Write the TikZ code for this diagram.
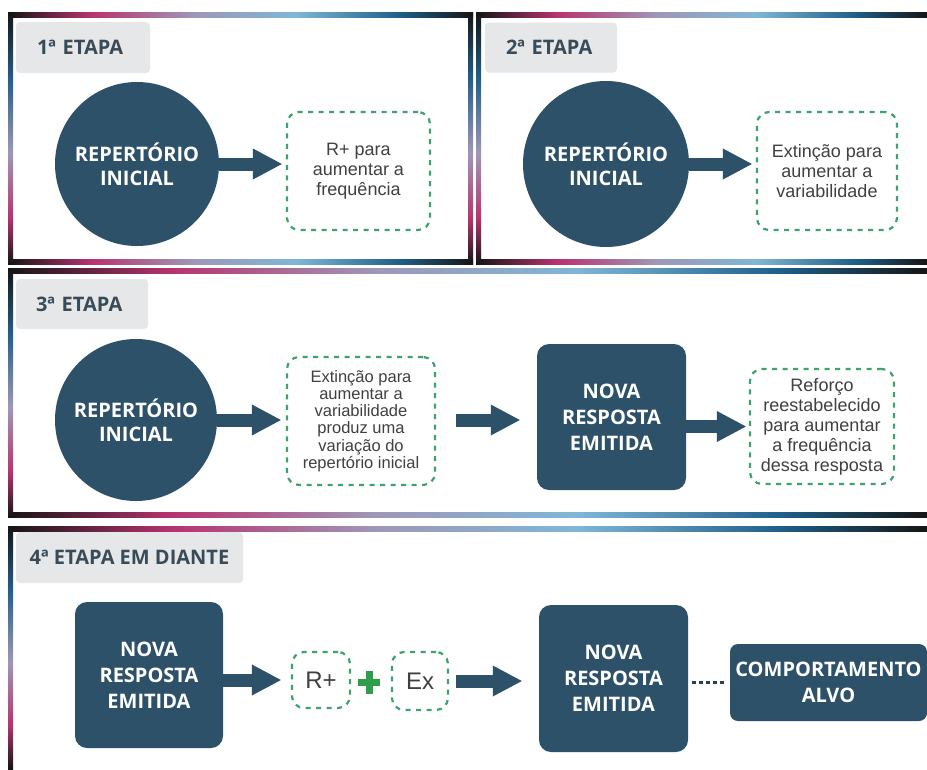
\documentclass[tikz,border=0pt]{standalone}
\usepackage{fontspec}
\setmainfont{Liberation Sans}
\newfontfamily\osfont{Open Sans}
\usetikzlibrary{arrows.meta}
\definecolor{navy}{HTML}{2D5169}
\definecolor{tabgray}{HTML}{E6E7E9}
\definecolor{tabtext}{HTML}{3A4B58}
\definecolor{dgreen}{HTML}{3DA26E}
\definecolor{pgreen}{HTML}{2E9E4A}
\definecolor{bodytext}{HTML}{404040}
\definecolor{dotcol}{HTML}{2A3E4C}
\definecolor{fpink}{HTML}{B8336F}
\definecolor{flav}{HTML}{9F97B8}
\definecolor{flblue}{HTML}{7FB6D6}
\definecolor{fblue}{HTML}{1F5F8A}
\definecolor{fdark}{HTML}{151515}
% stops placed in the 25bp..75bp band that \shade maps onto the path
\pgfdeclarehorizontalshading{frameh}{100bp}{color(0bp)=(fdark); color(25bp)=(fdark); color(34bp)=(fpink); color(45bp)=(flav); color(56bp)=(flblue); color(67bp)=(fblue); color(75bp)=(fdark); color(100bp)=(fdark)}
\pgfdeclareverticalshading{framev}{100bp}{color(0bp)=(fdark); color(25bp)=(fdark); color(34bp)=(fpink); color(47bp)=(flav); color(62bp)=(fblue); color(75bp)=(fdark); color(100bp)=(fdark)}
\tikzset{
  tabbox/.style={fill=tabgray, rounded corners=4pt, inner ysep=0pt,
    font=\osfont\bfseries\fontsize{20}{22}\selectfont, text=tabtext},
  navycirc/.style={circle, fill=navy, inner sep=0pt, text=white, align=center,
    font=\osfont\bfseries\fontsize{20}{24}\selectfont},
  navybox/.style={rectangle, rounded corners=12pt, fill=navy, inner sep=0pt,
    text=white, align=center, font=\osfont\bfseries\fontsize{20}{26}\selectfont},
  dashbox/.style={draw=dgreen, line width=2.2pt, dash pattern=on 5pt off 5.5pt,
    rounded corners=12pt, inner sep=0pt, align=center, text=bodytext,
    font=\fontsize{18}{20}\selectfont},
  fatarrow/.style={draw=navy, line width=13pt,
    -{Triangle[length=29pt,width=31pt,line width=0pt]}},
  dotline/.style={draw=dotcol, line width=3.5pt, dash pattern=on 3.5pt off 3.5pt},
  hbar/.style={shading=frameh},
  vbar/.style={shading=framev}
}
\begin{document}
\begin{tikzpicture}[x=1pt,y=-1pt]
\useasboundingbox (0,0) rectangle (927,769);
\fill[white] (0,0) rectangle (927,769);

% ---------- frames ----------
% panel 1
\shade[hbar] (8,12) rectangle (473,17);
\shade[hbar] (8,259) rectangle (473,264);
\shade[vbar] (8,12) rectangle (13,264);
\shade[vbar] (468,12) rectangle (473,264);
% panel 2
\shade[hbar] (476,12) rectangle (927,17);
\shade[hbar] (476,259) rectangle (927,264);
\shade[vbar] (476,12) rectangle (481,264);
% panel 3
\shade[hbar] (8,268) rectangle (927,273);
\shade[hbar] (8,512) rectangle (927,517);
\shade[vbar] (8,268) rectangle (13,517);
% panel 4
\shade[hbar] (8,526) rectangle (927,531);
\shade[vbar] (8,526) rectangle (13,769);

% ---------- panel 1 ----------
\node[tabbox, inner xsep=21pt, text width=92pt, align=left, minimum height=51pt] (t1) at (83,47.5) {1ª ETAPA};
\node[navycirc, minimum size=164pt] (c1) at (137,164) {REPERTÓRIO\\INICIAL};
\node[dashbox, minimum width=143pt, minimum height=118pt] (b1) at (358.5,171) {R+ para\\aumentar a\\frequência};
\draw[fatarrow, shorten >=4pt] (c1.east) -- (c1.east -| b1.west);

% ---------- panel 2 ----------
\node[tabbox, inner xsep=21pt, text width=90pt, align=left, minimum height=50pt] (t2) at (551,47.5) {2ª ETAPA};
\node[navycirc, minimum size=166pt] (c2) at (606,164) {REPERTÓRIO\\INICIAL};
\node[dashbox, minimum width=140pt, minimum height=118pt] (b2) at (827,171) {Extinção para\\aumentar a\\variabilidade};
\draw[fatarrow, shorten >=4pt] (c2.east) -- (c2.east -| b2.west);

% ---------- panel 3 ----------
\node[tabbox, inner xsep=20pt, text width=92pt, align=left, minimum height=50pt] (t3) at (82,304) {3ª ETAPA};
\node[navycirc, minimum size=162pt] (c3) at (136,420) {REPERTÓRIO\\INICIAL};
\node[dashbox, minimum width=148pt, minimum height=128pt, font=\fontsize{16.5}{17.2}\selectfont] (b3) at (361,421)
  {Extinção para\\aumentar a\\variabilidade\\produz uma\\variação do\\repertório inicial};
\node[navybox, minimum width=149pt, minimum height=146pt] (s3) at (611.5,417) {NOVA\\RESPOSTA\\EMITIDA};
\node[dashbox, minimum width=144pt, minimum height=115pt] (b4) at (822,426.5)
  {Reforço\\reestabelecido\\para aumentar\\a frequência\\dessa resposta};
\draw[fatarrow, shorten >=5pt] (c3.east) -- (c3.east -| b3.west);
\draw[fatarrow, shorten <=20pt, shorten >=17pt] (b3.east |- c3.east) -- (s3.west |- c3.east);
\draw[fatarrow, shorten >=3pt] (s3.east |- b4.west) -- (b4.west);

% ---------- panel 4 ----------
\node[tabbox, inner xsep=0pt, minimum width=227pt, minimum height=51pt] (t4) at (129.5,557.5) {4ª ETAPA EM DIANTE};
\node[navybox, minimum width=148pt, minimum height=146pt] (s4) at (149,675) {NOVA\\RESPOSTA\\EMITIDA};
\node[dashbox, minimum width=58pt, minimum height=56pt, font=\fontsize{24}{26}\selectfont] (rp) at (321,680) {R+};
\node[dashbox, minimum width=56pt, minimum height=58pt, font=\fontsize{24}{26}\selectfont] (ex) at (420,681) {Ex};
\node[minimum size=22pt, inner sep=0pt] (plus) at (369,682.5) {};
\fill[pgreen] ([yshift=-3.5pt]plus.west) rectangle ([yshift=3.5pt]plus.east);
\fill[pgreen] ([xshift=-3.5pt]plus.north) rectangle ([xshift=3.5pt]plus.south);
\node[navybox, minimum width=149pt, minimum height=147pt] (s5) at (613.5,678.5) {NOVA\\RESPOSTA\\EMITIDA};
\node[navybox, rounded corners=8pt, minimum width=197pt, minimum height=77pt] (goal) at (828.5,682.5) {COMPORTAMENTO\\ALVO};
\draw[fatarrow, shorten >=10pt] (s4.east |- rp.west) -- (rp.west);
\draw[fatarrow, shorten <=7pt, shorten >=17pt] (ex.east) -- (ex.east -| s5.west);
\draw[dotline, shorten <=4pt, shorten >=3pt] (s5.east |- goal.west) -- (goal.west);
\end{tikzpicture}
\end{document}
